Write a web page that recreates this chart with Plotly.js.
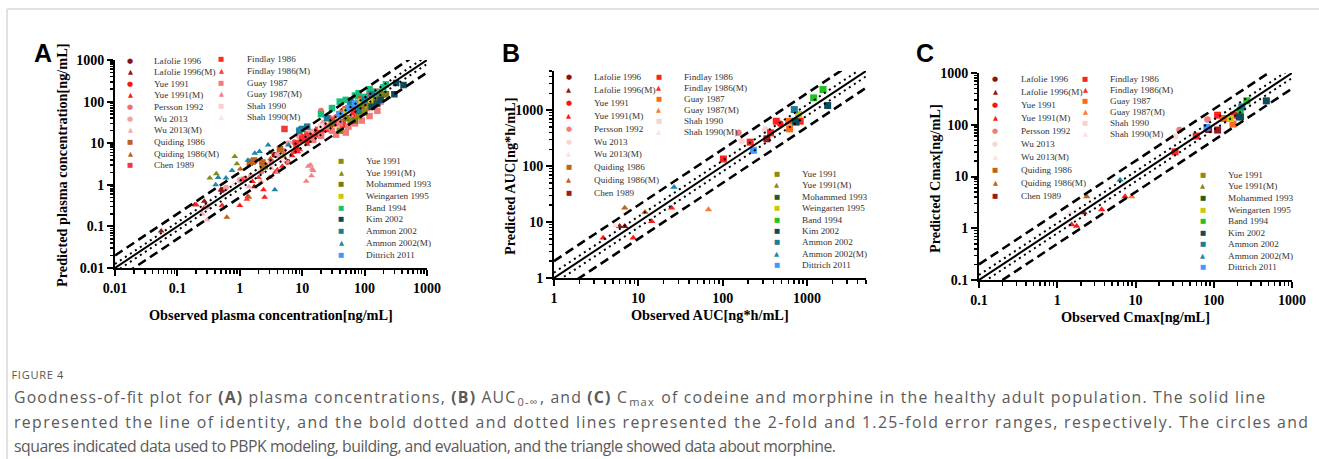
<!DOCTYPE html>
<html><head><meta charset="utf-8">
<script src="https://cdn.plot.ly/plotly-3.0.1.min.js"></script>
<style>html,body{margin:0;padding:0;background:#fff;}#chart{width:1319px;height:459px;}</style>
</head><body><div id="chart"></div>
<script>
// ---------------- legend categories ----------------
const legendCol1 = ["Lafolie 1996","Lafolie 1996(M)","Yue 1991","Yue 1991(M)","Persson 1992","Wu 2013","Wu 2013(M)","Quiding 1986","Quiding 1986(M)","Chen 1989"];
const legendCol2 = ["Findlay 1986","Findlay 1986(M)","Guay 1987","Guay 1987(M)","Shah 1990","Shah 1990(M)"];
const legendGroup2 = ["Yue 1991","Yue 1991(M)","Mohammed 1993","Weingarten 1995","Band 1994","Kim 2002","Ammon 2002","Ammon 2002(M)","Dittrich 2011"];
const seriesSymbols = ["circle","triangle-up","circle","triangle-up","circle","circle","triangle-up","square","triangle-up","square",
  "square","triangle-up","square","triangle-up","square","triangle-up",
  "square","triangle-up","square","square","square","square","square","triangle-up","square"];
const colorsA = ["#8b1212","#981414","#ff1212","#ff1a1a","#f26d6d","#f5a0a0","#f7aaaa","#c0621c","#c0621c","#f03a3a",
  "#ff2a2a","#ff3838","#f47a7a","#f48282","#fbd0d0","#fde0e0",
  "#8a8a14","#8a8a14","#7a7a16","#c8c814","#16c07c","#0f4a5c","#1a7c98","#1a88aa","#3d9bff"];
const colorsBC = ["#8b1212","#981414","#ff1212","#ff1a1a","#f07b7b","#fcd6d6","#fde0e0","#c0621c","#c0621c","#a01820",
  "#ff2020","#ff2a2a","#ff6a1a","#ff7a2a","#fbd0d0","#fde0e0",
  "#8a8a14","#8a8a14","#1e5e22","#c8c814","#22c022","#0f4a5c","#1a7c98","#1a88aa","#3d9bff"];

// ---------------- panel A: plasma concentrations [observed, predicted] ----------------
const A_Lafolie1996 = [[0.52,0.75],[3.6,5.3],[5.8,3.6],[9,15],[17,20],[45,60],[70,80],[100,95]];
const A_Lafolie1996M = [[0.055,0.078],[0.19,0.33],[0.27,0.4],[0.5,0.75],[1.7,0.9],[2.6,2.9],[4.2,4.8]];
const A_Yue1991 = [[8,7.5],[10,14],[12,11],[14,18],[18,16],[22,30],[28,24],[35,42],[45,38],[55,65],[65,48],[75,90],[90,70],[110,105],[130,85],[160,150],[60,110],[85,130]];
const A_Yue1991M = [[0.52,0.32],[1.0,0.32],[1.35,0.52],[1.6,1.2],[2.4,0.76],[2.5,0.5],[3.7,2.0],[4.8,2.8],[6.9,5.0],[8.5,6.2],[12,9.5],[0.2,0.33],[0.27,0.28]];
const A_Persson1992 = [[1.2,1.4],[2.2,2.1],[3.2,3.6],[5,6.5],[7.5,10.5],[12,17],[20,60],[28,40],[42,52],[60,92],[80,58],[100,125],[130,140]];
const A_Wu2013 = [[0.3,0.3],[0.6,0.85],[1,1.3],[1.5,1.6],[2.5,3.1],[4,5.2],[6,10],[9,14],[14,19],[22,31],[35,40],[55,62],[85,96],[140,180]];
const A_Wu2013M = [[0.3,0.144],[0.52,0.27],[1.05,1.37],[1.4,0.9],[2.2,1.2],[3.2,2.5],[5,4],[0.25,0.2]];
const A_Quiding1986 = [[1.45,3.4],[1.6,3.6],[1.7,3.85],[2.3,3.45],[2.5,2.8],[4.4,7.2],[10,12],[22,24],[50,62],[75,72]];
const A_Quiding1986M = [[0.62,0.167],[1.02,2.4],[1.4,0.5],[2.3,2.5],[3.1,4.2]];
const A_Chen1989 = [[5.2,22],[8,10],[12,15],[18,21],[30,35],[45,55],[60,82],[80,102],[110,90],[140,130]];
const A_Findlay1986 = [[10,13],[15,14],[20,18],[25,22],[32,30],[40,48],[50,65],[65,75],[80,112],[100,88],[120,140],[160,172],[45,28],[70,55]];
const A_Findlay1986M = [[1.1,1.3],[1.3,0.45],[2.0,1.5],[3.0,1.5],[4.0,2.3],[5.2,4.1],[7.2,6],[9.2,7]];
const A_Guay1987 = [[15,12],[20,15],[25,25],[30,20],[40,30],[50,18],[60,40],[70,30],[80,50],[90,35],[100,62],[120,45],[140,80],[160,60],[180,100],[200,150],[35,16],[55,25],[110,70]];
const A_Guay1987M = [[11.6,1.22],[12.5,2.8],[13.6,3.0],[14.1,1.65],[14.5,2.4],[15,2.2],[3,1.5],[4,2],[6,3.5]];
const A_Shah1990 = [[20,25],[40,45],[80,92],[150,160]];
const A_Shah1990M = [[0.8,1],[2,2.2],[5,4]];
const A_Yue1991b = [[40,20],[60,35],[80,45],[100,55],[120,75],[150,100],[170,130],[200,150]];
const A_Yue1991bM = [[0.33,1.45],[0.42,1.84],[0.83,4.8],[0.9,3.2],[2.5,2.6],[3.0,6],[5,5]];
const A_Mohammed1993 = [[30,30],[50,40],[70,35],[90,80],[130,90],[180,120],[220,150]];
const A_Weingarten1995 = [[50,60],[80,100],[120,110]];
const A_Band1994 = [[20,50],[30,70],[40,100],[50,110],[60,90],[70,140],[80,160],[100,130],[120,200],[150,170],[200,220],[220,260]];
const A_Kim2002 = [[130,75],[160,90],[180,110],[300,150],[320,280],[420,250]];
const A_Ammon2002 = [[9,20],[10,22],[12,25],[25,40],[40,50],[60,90],[80,60],[100,110],[130,150]];
const A_Ammon2002M = [[0.41,1.0],[0.6,1.45],[0.75,2.2],[1.35,3.9],[1.74,5.7],[2.07,6.3],[2.85,9.0],[3.64,0.76],[0.45,1.5],[6,9],[8.85,21.8]];
const A_Dittrich2011 = [[40,50],[55,70],[70,90]];

// ---------------- panel B: AUC ----------------
const B_Lafolie1996 = [];
const B_Lafolie1996M = [[6.0,8.4],[6.9,8.4]];
const B_Yue1991 = [[482,569]];
const B_Yue1991M = [[3.83,5.2],[8.7,5.2],[14.4,10.3],[24.8,17.9]];
const B_Persson1992 = [[154,393]];
const B_Wu2013 = [[168,278],[320,451]];
const B_Wu2013M = [[5.3,8.6]];
const B_Quiding1986 = [];
const B_Quiding1986M = [[6.9,17.9],[12,15]];
const B_Chen1989 = [[335,307]];
const B_Findlay1986 = [[102,134],[212,268],[370,393],[432,635],[830,635]];
const B_Findlay1986M = [];
const B_Guay1987 = [[622,463],[605,635]];
const B_Guay1987M = [[67.8,16.7]];
const B_Shah1990 = [];
const B_Shah1990M = [];
const B_Yue1991b = [];
const B_Yue1991bM = [];
const B_Mohammed1993 = [[727,635]];
const B_Weingarten1995 = [[796,836]];
const B_Band1994 = [[1200,1660],[1550,2340]];
const B_Kim2002 = [[740,610],[1760,1210]];
const B_Ammon2002 = [[707,1025]];
const B_Ammon2002M = [[26.5,41.9]];
const B_Dittrich2011 = [[232,192]];

// ---------------- panel C: Cmax ----------------
const C_Lafolie1996 = [];
const C_Lafolie1996M = [[2.2,2.0]];
const C_Yue1991 = [[197,153]];
const C_Yue1991M = [[1.53,1.18],[1.77,1.1],[3.7,2.3],[7.36,4.1]];
const C_Persson1992 = [[36.5,79],[83,126]];
const C_Wu2013 = [[32,59]];
const C_Wu2013M = [[1.45,2.0]];
const C_Quiding1986 = [[148,132]];
const C_Quiding1986M = [[2.38,4.1]];
const C_Chen1989 = [[86,81],[112,79]];
const C_Findlay1986 = [[32,30],[59.7,60.5],[112,153],[179,153]];
const C_Findlay1986M = [];
const C_Guay1987 = [[134,132],[176,103]];
const C_Guay1987M = [[8.96,4.1]];
const C_Shah1990 = [];
const C_Shah1990M = [];
const C_Yue1991b = [];
const C_Yue1991bM = [];
const C_Mohammed1993 = [[220,142]];
const C_Weingarten1995 = [[163,132]];
const C_Band1994 = [[218,191],[265,290]];
const C_Kim2002 = [[212,142],[470,290]];
const C_Ammon2002 = [[229,222]];
const C_Ammon2002M = [[6.35,8.6]];
const C_Dittrich2011 = [[81.7,89]];

// tick labels
const ticksA = [0.01,0.1,1,10,100,1000];
const ticksB = [1,10,100,1000];
const ticksC = [0.1,1,10,100,1000];
const foldFactors = [1, 2, 0.5, 1.25, 0.8];

const titles = {
  A: ["Observed plasma concentration[ng/mL]","Predicted plasma concentration[ng/mL]"],
  B: ["Observed AUC[ng*h/mL]","Predicted AUC[ng*h/mL]"],
  C: ["Observed Cmax[ng/mL]","Predicted Cmax[ng/mL]"]
};
const captionLines = [
  "Goodness-of-fit plot for <b>(A)</b> plasma concentrations, <b>(B)</b> AUC<sub>0-∞</sub>, and <b>(C)</b> C<sub>max</sub> of codeine and morphine in the healthy adult population. The solid line",
  "represented the line of identity, and the bold dotted and dotted lines represented the 2-fold and 1.25-fold error ranges, respectively. The circles and",
  "squares indicated data used to PBPK modeling, building, and evaluation, and the triangle showed data about morphine."
];
const captionWidths = [1251, 1294, 822];   // line widths in the reference, px (layout)

// ---------------- build ----------------
const W = 1319, H = 459;
const PX = v => v / W, PY = v => 1 - v / H;
const panelSeries = {
  A: [A_Lafolie1996,A_Lafolie1996M,A_Yue1991,A_Yue1991M,A_Persson1992,A_Wu2013,A_Wu2013M,A_Quiding1986,A_Quiding1986M,A_Chen1989,
      A_Findlay1986,A_Findlay1986M,A_Guay1987,A_Guay1987M,A_Shah1990,A_Shah1990M,
      A_Yue1991b,A_Yue1991bM,A_Mohammed1993,A_Weingarten1995,A_Band1994,A_Kim2002,A_Ammon2002,A_Ammon2002M,A_Dittrich2011],
  B: [B_Lafolie1996,B_Lafolie1996M,B_Yue1991,B_Yue1991M,B_Persson1992,B_Wu2013,B_Wu2013M,B_Quiding1986,B_Quiding1986M,B_Chen1989,
      B_Findlay1986,B_Findlay1986M,B_Guay1987,B_Guay1987M,B_Shah1990,B_Shah1990M,
      B_Yue1991b,B_Yue1991bM,B_Mohammed1993,B_Weingarten1995,B_Band1994,B_Kim2002,B_Ammon2002,B_Ammon2002M,B_Dittrich2011],
  C: [C_Lafolie1996,C_Lafolie1996M,C_Yue1991,C_Yue1991M,C_Persson1992,C_Wu2013,C_Wu2013M,C_Quiding1986,C_Quiding1986M,C_Chen1989,
      C_Findlay1986,C_Findlay1986M,C_Guay1987,C_Guay1987M,C_Shah1990,C_Shah1990M,
      C_Yue1991b,C_Yue1991bM,C_Mohammed1993,C_Weingarten1995,C_Band1994,C_Kim2002,C_Ammon2002,C_Ammon2002M,C_Dittrich2011]
};
const allLabels = legendCol1.concat(legendCol2, legendGroup2);

const panels = {
  A: {ax:'', box:[115,427,60,268], range:[-2,3], ticks:ticksA, colors:colorsA, msize:6,
      letter:[42.5,53.5], xt:[270.5,315], yt:[62,165],
      leg:[{sx:130,tx:152,y0:60.7,dy:11.6},{sx:221,tx:245,y0:59.3,dy:11.6},{sx:341.5,tx:364,y0:161,dy:11.7}]},
  B: {ax:'2', box:[554,866,71,278], range:[0,3.7], ticks:ticksB, colors:colorsBC, msize:6.5,
      letter:[510.5,53.5], xt:[709.7,315], yt:[510,177],
      leg:[{sx:568.5,tx:592,y0:76.7,dy:12.96},{sx:658.5,tx:682,y0:76.7,dy:11.0},{sx:776.5,tx:800,y0:174,dy:11.4}]},
  C: {ax:'3', box:[979,1292,73,280], range:[-1,3], ticks:ticksC, colors:colorsBC, msize:6.5,
      letter:[924.7,53.5], xt:[1135,317], yt:[935,178],
      leg:[{sx:995,tx:1019,y0:79,dy:12.97},{sx:1085,tx:1108,y0:79,dy:11.0},{sx:1202.5,tx:1226,y0:175,dy:11.5}]}
};

function minorVals(range) {
  const out = [];
  for (let d = Math.floor(range[0]); d < Math.ceil(range[1]); d++)
    for (let m = 2; m <= 9; m++) { const v = m * Math.pow(10, d); if (Math.log10(v) <= range[1] + 1e-9) out.push(v); }
  return out;
}
const serif = 'Liberation Serif, Times New Roman, serif';
function axisDef(domain, range, ticks, anchor) {
  return {
    type:'log', domain, range, anchor, tickmode:'array', tickvals:ticks, ticktext:ticks.map(String),
    ticks:'outside', ticklen:6, tickwidth:2, tickcolor:'#000', showline:true, linewidth:2, linecolor:'#000',
    showgrid:false, zeroline:false, fixedrange:true,
    tickfont:{family:serif, size:14, color:'#000', weight:'bold'},
    minor:{ticks:'outside', ticklen:3.5, tickwidth:1.5, tickcolor:'#000', tickmode:'array', tickvals:minorVals(range), showgrid:false}
  };
}

const traces = [];
const layout = {width:W, height:H, margin:{l:0,r:0,t:0,b:0}, showlegend:false,
  paper_bgcolor:'#fff', plot_bgcolor:'rgba(0,0,0,0)', annotations:[], shapes:[]};
const glyph = {circle:'●', 'triangle-up':'▲', square:'■'};
const titleFont = {family:serif, size:14.3, color:'#000', weight:'bold'};

for (const key of ['A','B','C']) {
  const p = panels[key];
  const xa = 'x' + p.ax, ya = 'y' + p.ax;
  layout['xaxis' + p.ax] = axisDef([PX(p.box[0]), PX(p.box[1])], p.range, p.ticks, ya);
  layout['yaxis' + p.ax] = axisDef([PY(p.box[3]), PY(p.box[2])], p.range, p.ticks, xa);
  panelSeries[key].forEach((pts, i) => {
    traces.push({type:'scatter', mode:'markers', xaxis:xa, yaxis:ya, name:allLabels[i],
      x:pts.map(d => d[0]), y:pts.map(d => d[1]), cliponaxis:true,
      marker:{symbol:seriesSymbols[i], color:p.colors[i], size: seriesSymbols[i]==='square' ? p.msize+0.5 : p.msize, line:{width:0}}});
  });
  const lo = Math.pow(10, p.range[0]), hi = Math.pow(10, p.range[1]);
  foldFactors.forEach(k => {
    const dotted = (k === 1.25 || k === 0.8), solid = k === 1;
    const dash = solid ? 'solid' : (dotted ? '2px,4px' : '9px,5px');
    traces.push({type:'scatter', mode:'lines', xaxis:xa, yaxis:ya, hoverinfo:'skip',
      x:[lo, hi], y:[k*lo, k*hi], line:{color:'#000', width: solid ? 2 : (dotted ? 2 : 2.6), dash}});
  });
  layout.annotations.push({xref:'paper', yref:'paper', x:PX(p.xt[0]), y:PY(p.xt[1]), text:titles[key][0], showarrow:false,
    xanchor:'center', yanchor:'middle', font:titleFont});
  layout.annotations.push({xref:'paper', yref:'paper', x:PX(p.yt[0]), y:PY(p.yt[1]), text:titles[key][1], showarrow:false,
    textangle:-90, xanchor:'center', yanchor:'middle', font:titleFont});
  layout.annotations.push({xref:'paper', yref:'paper', x:PX(p.letter[0]), y:PY(p.letter[1]), text:'<b>'+key+'</b>',
    showarrow:false, xanchor:'center', yanchor:'middle', font:{family:'Liberation Sans, Arial, sans-serif', size:25, color:'#000'}});
  const groups = [legendCol1, legendCol2, legendGroup2];
  let idx = 0;
  groups.forEach((labels, g) => {
    const L = p.leg[g];
    labels.forEach((lab, j) => {
      const i = idx + j, yy = L.y0 + j * L.dy;
      layout.annotations.push({xref:'paper', yref:'paper', x:PX(L.sx), y:PY(yy), text:glyph[seriesSymbols[i]], showarrow:false,
        xanchor:'center', yanchor:'middle', font:{family:'DejaVu Sans', size: seriesSymbols[i]==='circle' ? 7 : 6.5, color:p.colors[i]}});
      layout.annotations.push({xref:'paper', yref:'paper', x:PX(L.tx), y:PY(yy), text:lab, showarrow:false,
        xanchor:'left', yanchor:'middle', font:{family:serif, size:9.2, color:'#333'}});
    });
    idx += labels.length;
  });
}

const captionStart = layout.annotations.length;
layout.annotations.push({xref:'paper', yref:'paper', x:PX(12), y:PY(374), text:'FIGURE 4', showarrow:false, xanchor:'left', yanchor:'middle',
  font:{family:'Open Sans, sans-serif', size:11, color:'#555'}});
captionLines.forEach((t, i) => {
  layout.annotations.push({xref:'paper', yref:'paper', x:PX(12), y:PY(397 + i*24.5), text:t, showarrow:false, xanchor:'left', yanchor:'middle', align:'left',
    font:{family:'Open Sans, sans-serif', size:15.8, color:'#5a5a5a'}});
});
layout.shapes.push({type:'line', xref:'paper', yref:'paper', x0:PX(7), x1:1, y0:PY(9), y1:PY(9), line:{color:'#d8d8d8', width:1.5}});
layout.shapes.push({type:'line', xref:'paper', yref:'paper', x0:PX(7), x1:PX(7), y0:PY(9), y1:0, line:{color:'#d8d8d8', width:1.5}});

Plotly.newPlot('chart', traces, layout, {staticPlot:true, displayModeBar:false}).then(gd => {
  // fit caption lines to the widths measured in the reference by adjusting letter spacing
  const fit = (annIndex, width) => {
    const t = gd.querySelector('.annotation[data-index="' + annIndex + '"] text.annotation-text');
    if (!t) return;
    t.setAttribute('textLength', width);
    t.setAttribute('lengthAdjust', 'spacing');
  };
  fit(captionStart, 52);
  captionWidths.forEach((w, i) => fit(captionStart + 1 + i, w));
});
</script></body></html>
